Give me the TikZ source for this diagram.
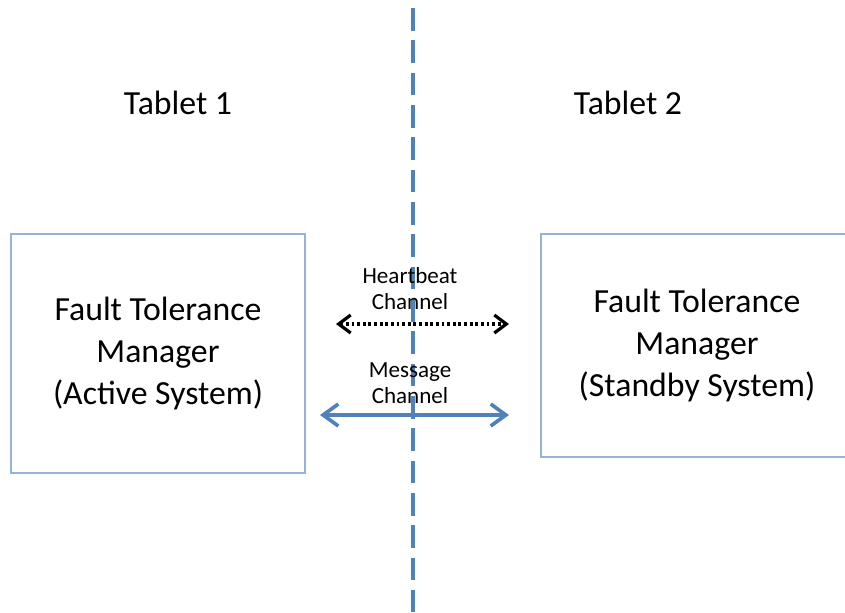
\documentclass[tikz,border=0pt]{standalone}
\usepackage{fontspec}
\setmainfont{Carlito}
\usetikzlibrary{positioning,arrows.meta}
\definecolor{divblue}{RGB}{79,129,189}
\definecolor{boxblue}{RGB}{149,179,215}
\tikzset{manager/.style={draw=boxblue,line width=1.1pt,align=center,font=\fontsize{24}{30}\selectfont,inner sep=0pt}}
\tikzset{tablet/.style={font=\fontsize{24}{30}\selectfont}}
\tikzset{chanlabel/.style={align=center,font=\fontsize{16.4}{18.5}\selectfont,inner sep=0pt}}
\tikzset{divider/.style={draw=divblue,line width=2.6pt,dash pattern=on 16pt off 7pt}}
\tikzset{heartbeat/.style={draw=black,line width=2.3pt,dash pattern=on 2pt off 2pt,{Straight Barb[length=0.3cm,width=0.45cm]}-{Straight Barb[length=0.3cm,width=0.45cm]}}}
\tikzset{message/.style={draw=divblue,line width=2.6pt,{Straight Barb[length=0.38cm,width=0.55cm]}-{Straight Barb[length=0.38cm,width=0.55cm]}}}

\begin{document}
\begin{tikzpicture}[x=0.025cm,y=-0.025cm]
    \useasboundingbox (0,0) rectangle (845,612);
    % dividing line between the two tablets
    \coordinate (divtop) at (413,8);
    \coordinate (divbot) at (413,612);
        \path[divider] (divtop) -- (divbot);
    \node[tablet] (t1) at (178,103) {Tablet 1};
    \node[tablet] (t2) at (628,103) {Tablet 2};
    \node[manager,minimum width=7.35cm,minimum height=5.975cm] (active) at (158,353.5)
        {Fault Tolerance\\Manager\\(Active System)};
    \node[manager,minimum width=7.8cm,minimum height=5.575cm] (standby) at (697,345.5)
        {Fault Tolerance\\Manager\\(Standby System)};
    % channels
    \coordinate (hbL) at (336,324);
    \coordinate (hbR) at (509,324);
        \path[heartbeat] (hbL) -- (hbR);
    \node[chanlabel] (hb) at (410,289) {Heartbeat\\Channel};
    \coordinate (msgL) at (320,415);
    \coordinate (msgR) at (509,415);
        \path[message] (msgL) -- (msgR);
    \node[chanlabel] (msg) at (410,383) {Message\\Channel};
\end{tikzpicture}
\end{document}
